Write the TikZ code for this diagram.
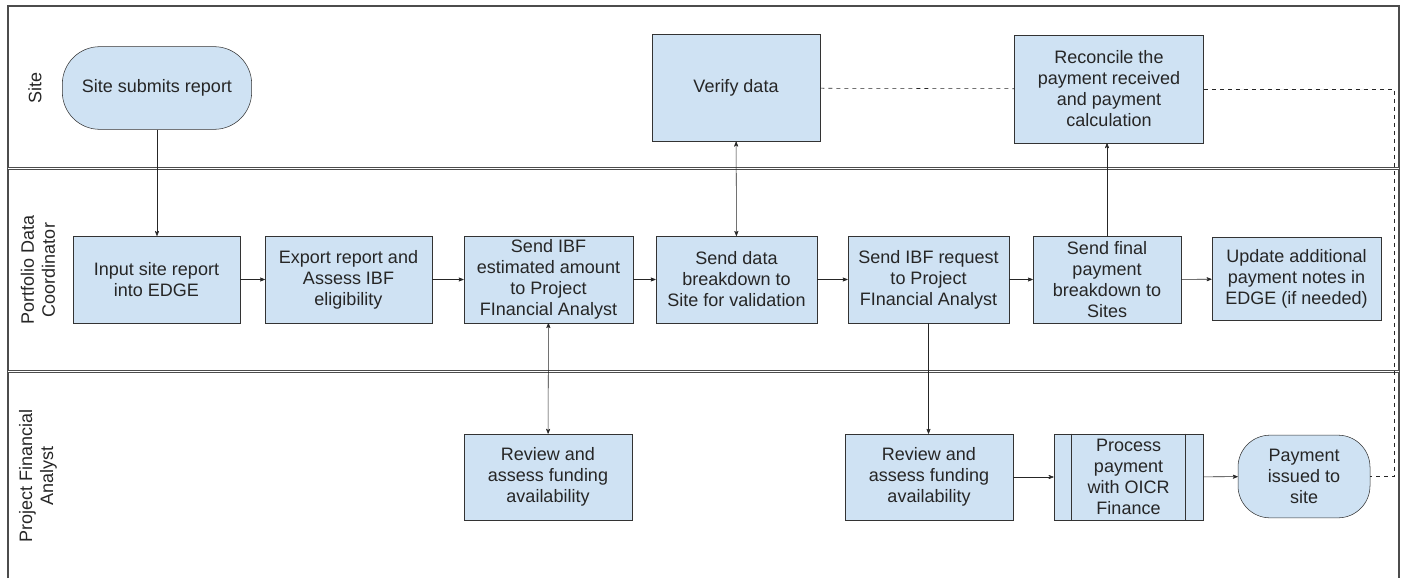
\documentclass[tikz,border=0pt]{standalone}
\usepackage{fontspec}
\setmainfont{Liberation Sans}
\usetikzlibrary{arrows.meta, positioning}
\definecolor{boxblue}{HTML}{CFE2F3}

\begin{document}
\begin{tikzpicture}[
      x=0.75pt, y=-0.75pt, >={Stealth[round,length=4.5pt,width=3.5pt]},
      every node/.style={font=\fontsize{13.5}{15.75}\selectfont, align=center, text=black!85},
      task/.style={draw=black!80, fill=boxblue, inner sep=1pt},
      terminal/.style={task, rounded corners=28pt},
      lane/.style={draw=black!70, line width=0.7pt, double, double distance=1.3pt},
      flow/.style={->, draw=black!85},
      link/.style={draw=black!85, dashed},
      ]
      \useasboundingbox (0,0) rectangle (1405,578);

      % swimlanes
      \draw[black!70, line width=0.9pt] (8,578) -- (8,6) -- (1399,6) -- (1399,578);
      \draw[lane] (8,168.5) -- (1399,168.5);
      \draw[lane] (8,371.5) -- (1399,371.5);
      \node[rotate=90] (l_site) at (35,88)   {Site};
      \node[rotate=90] (l_pdc)  at (38,270)  {Portfolio Data\\Coordinator};
      \node[rotate=90] (l_pfa)  at (38,476)  {Project Financial\\Analyst};

      % site
      \node[terminal, minimum width=142pt, minimum height=62pt] (submit) at (157,88) {Site submits report};
      \node[task, minimum width=126pt, minimum height=80pt] (verify) at (736,88) {Verify data};
      \node[task, minimum width=142pt, minimum height=81pt] (reconcile) at (1109,89)
            {Reconcile the\\payment received\\and payment\\calculation};

      % portfolio data coordinator
      \node[task, minimum width=125pt, minimum height=65pt] (input)     at (156.5,279.5) {Input site report\\into EDGE};
      \node[task, minimum width=125pt, minimum height=65pt] (export)    at (348.5,279.5) {Export report and\\Assess IBF\\eligibility};
      \node[task, minimum width=127pt, minimum height=65pt] (estimate)  at (548.5,279.5) {Send IBF\\estimated amount\\to Project\\FInancial Analyst};
      \node[task, minimum width=121pt, minimum height=65pt] (breakdown) at (736.5,279.5) {Send data\\breakdown to\\Site for validation};
      \node[task, minimum width=121pt, minimum height=65pt] (request)   at (928.5,279.5) {Send IBF request\\to Project\\FInancial Analyst};
      \node[task, minimum width=111pt, minimum height=65pt] (final)     at (1107,279.5)  {Send final\\payment\\breakdown to\\Sites};
      \node[task, minimum width=127pt, minimum height=62pt] (update)    at (1296.5,279)  {Update additional\\payment notes in\\EDGE (if needed)};

      % project financial analyst
      \node[task, minimum width=126pt, minimum height=64.5pt] (review_a) at (548,477) {Review and\\assess funding\\availability};
      \node[task, minimum width=126pt, minimum height=64.5pt] (review_b) at (929,477) {Review and\\assess funding\\availability};
      \node[task, minimum width=112pt, minimum height=64.5pt] (process)  at (1128.5,477) {Process\\payment\\with OICR\\Finance};
      \draw[black!80] ([xshift=13.5pt]process.north west) -- ([xshift=13.5pt]process.south west);
      \draw[black!80] ([xshift=-14pt]process.north east) -- ([xshift=-14pt]process.south east);
      \node[terminal, rounded corners=24pt, minimum width=99pt, minimum height=62pt] (issued) at (1304,476.5)
            {Payment\\issued to\\site};

      % connectors
      \draw[flow] (submit.south) -- (submit.south |- input.north);
      \foreach \a/\b in {input/export, export/estimate, estimate/breakdown,
                         breakdown/request, request/final, final/update}
        \draw[flow] (\a) -- (\b);
      \draw[flow, <->] (verify) -- (breakdown);
      \draw[flow, <->] (estimate) -- (review_a);
      \draw[flow] (request.south) -- (request.south |- review_b.north);
      \draw[flow] (final.north) -- (final.north |- reconcile.south);
      \draw[flow] (review_b) -- (process);
      \draw[flow] (process) -- (issued);

      \coordinate (turn) at (1394,476.5);
      \draw[link] (verify) -- (reconcile);
      \draw[link] (reconcile.east) -| (turn) -- (issued.east);
\end{tikzpicture}
\end{document}
